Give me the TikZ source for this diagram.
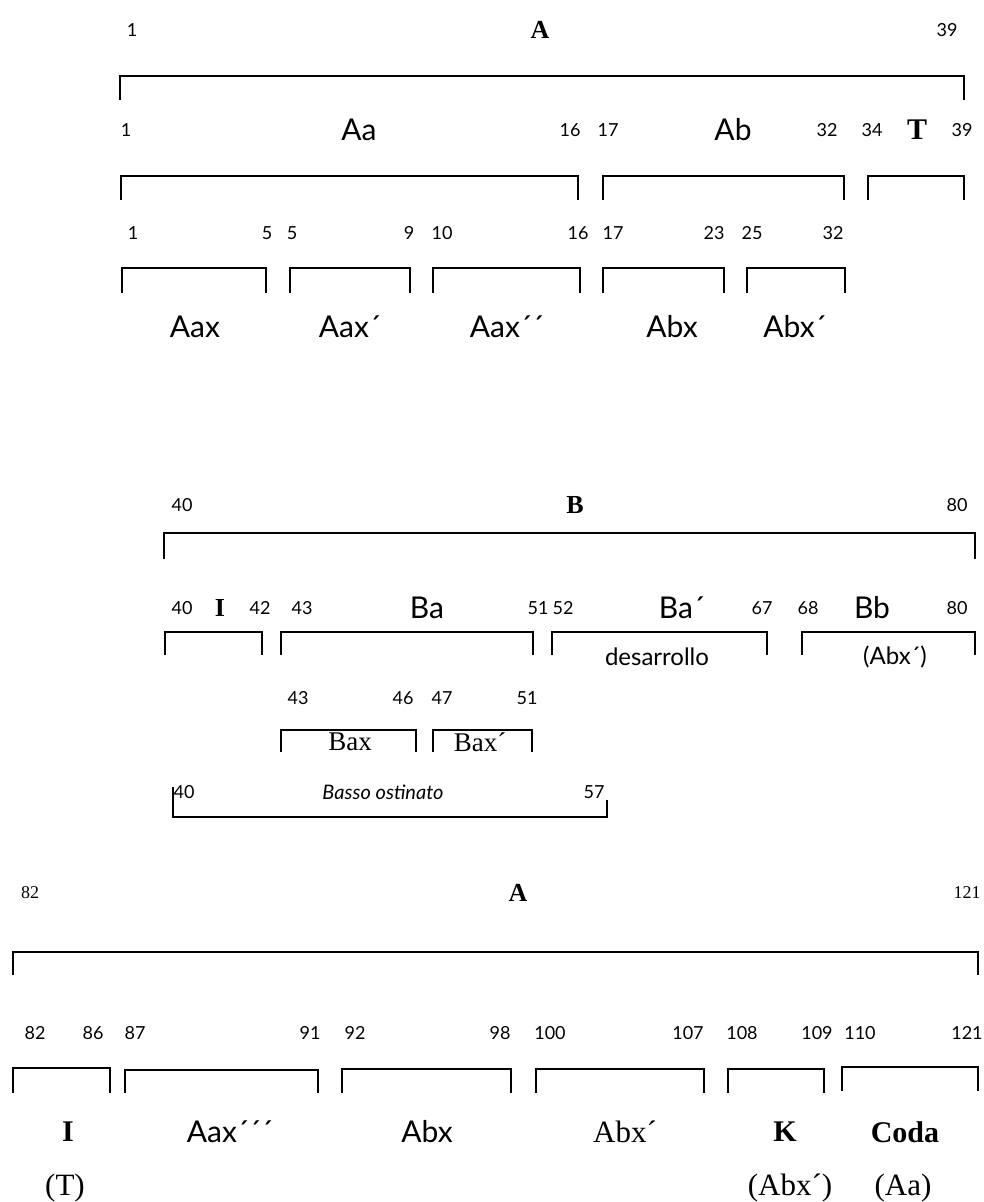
\documentclass[tikz,border=0pt]{standalone}
\usepackage{fontspec}
\setmainfont{Liberation Serif}
\newfontfamily\sansf{Lato}
\begin{document}
\begin{tikzpicture}[x=1pt,y=-1pt,
  num/.style={font=\sansf\fontsize{18}{18}\selectfont, inner sep=0pt},
  snum/.style={font=\fontsize{18}{18}\selectfont, inner sep=0pt},
  lab/.style={font=\sansf\fontsize{30}{30}\selectfont, inner sep=0pt},
  bl/.style={font=\bfseries\fontsize{26}{26}\selectfont, inner sep=0pt},
  blb/.style={font=\bfseries\fontsize{30}{30}\selectfont, inner sep=0pt},
  ser/.style={font=\fontsize{31}{31}\selectfont, inner sep=0pt},
  sml/.style={font=\sansf\fontsize{24}{24}\selectfont, inner sep=0pt},
  brk/.style={line width=1.8pt, line join=miter}]
\useasboundingbox (0,0) rectangle (983,1202);
% ---------- top section A ----------
\node[num] (a1) at (132,30) {1};
\node[bl] (aA) at (540,30) {A};
\node[num] (a39) at (947,30) {39};
\draw[brk] (120,100) |- (964,76) -- (964,100);
\node[num] (b1) at (126,130) {1};
\node[lab] (bAa) at (359,130) {Aa};
\node[num] (b16) at (570,130) {16};
\node[num] (b17) at (608,130) {17};
\node[lab] (bAb) at (733,130) {Ab};
\node[num] (b32) at (827,130) {32};
\node[num] (b34) at (872,130) {34};
\node[blb] (bT) at (917,130) {T};
\node[num] (b39) at (962,130) {39};
\draw[brk] (121,200) |- (578,176) -- (578,200);
\draw[brk] (603,200) |- (844,176) -- (844,200);
\draw[brk] (868,200) |- (964,176) -- (964,200);
\node[num] (c1) at (133,233) {1};
\node[num] (c5a) at (267,233) {5};
\node[num] (c5b) at (292,233) {5};
\node[num] (c9) at (409,233) {9};
\node[num] (c10) at (442,233) {10};
\node[num] (c16) at (578,233) {16};
\node[num] (c17) at (613,233) {17};
\node[num] (c23) at (714,233) {23};
\node[num] (c25) at (752,233) {25};
\node[num] (c32) at (833,233) {32};
\draw[brk] (122,293) |- (266,268) -- (266,293);
\draw[brk] (290,293) |- (410,268) -- (410,293);
\draw[brk] (433,293) |- (580,268) -- (580,293);
\draw[brk] (603,293) |- (724,268) -- (724,293);
\draw[brk] (747,293) |- (845,268) -- (845,293);
\node[lab] (dAax) at (195,327) {Aax};
\node[lab] (dAax1) at (350,327) {Aax´};
\node[lab] (dAax2) at (507,327) {Aax´´};
\node[lab] (dAbx) at (672,327) {Abx};
\node[lab] (dAbx1) at (795,327) {Abx´};
% ---------- middle section B ----------
\node[num] (e40) at (182,505) {40};
\node[bl] (eB) at (575,505) {B};
\node[num] (e80) at (957,505) {80};
\draw[brk] (164,559) |- (975,533) -- (975,559);
\node[num] (f40) at (182,608) {40};
\node[bl] (fI) at (220,608) {I};
\node[num] (f42) at (260,608) {42};
\node[num] (f43) at (302,608) {43};
\node[lab] (fBa) at (427,608) {Ba};
\node[num] (f51) at (538,608) {51};
\node[num] (f52) at (563,608) {52};
\node[lab] (fBa1) at (682,608) {Ba´};
\node[num] (f67) at (762,608) {67};
\node[num] (f68) at (808,608) {68};
\node[lab] (fBb) at (872,608) {Bb};
\node[num] (f80) at (957,608) {80};
\draw[brk] (165,655) |- (262,632) -- (262,655);
\draw[brk] (281,655) |- (533,632) -- (533,655);
\draw[brk] (552,655) |- (767,632) -- (767,655);
\draw[brk] (802,655) |- (975,632) -- (975,655);
\node[sml] (fdes) at (657,657) {desarrollo};
\node[sml] (fAbx) at (895,657) {(Abx´)};
\node[num] (g43) at (298,698) {43};
\node[num] (g46) at (403,698) {46};
\node[num] (g47) at (442,698) {47};
\node[num] (g51) at (527,698) {51};
\draw[brk] (281,752) |- (416,730) -- (416,752);
\draw[brk] (433,752) |- (532,730) -- (532,752);
\node[font=\fontsize{27}{27}\selectfont, inner sep=0pt] (gBax) at (350,742) {Bax};
\node[font=\fontsize{27}{27}\selectfont, inner sep=0pt] (gBax1) at (480,742) {Bax´};
\draw[line width=1.4pt] (173,787) |- (607,817) -- (607,800);
\node[num] (h40) at (184,792) {40};
\node[font=\sansf\itshape\fontsize{20}{20}\selectfont, inner sep=0pt] (hbo) at (383,792) {Basso ostinato};
\node[num] (h57) at (594,792) {57};
% ---------- bottom section A ----------
\node[snum] (i82) at (30,893) {82};
\node[bl] (iA) at (518,893) {A};
\node[snum] (i121) at (967,893) {121};
\draw[brk] (13,975) |- (978,952) -- (978,975);
\node[num] (j82) at (35,1033) {82};
\node[num] (j86) at (93,1033) {86};
\node[num] (j87) at (135,1033) {87};
\node[num] (j91) at (310,1033) {91};
\node[num] (j92) at (355,1033) {92};
\node[num] (j98) at (500,1033) {98};
\node[num] (j100) at (550,1033) {100};
\node[num] (j107) at (688,1033) {107};
\node[num] (j108) at (742,1033) {108};
\node[num] (j109) at (817,1033) {109};
\node[num] (j110) at (860,1033) {110};
\node[num] (j121) at (967,1033) {121};
\draw[brk] (13,1093) |- (110,1068) -- (110,1093);
\draw[brk] (125,1093) |- (318,1070) -- (318,1093);
\draw[brk] (342,1093) |- (511,1069) -- (511,1093);
\draw[brk] (536,1093) |- (704,1069) -- (704,1093);
\draw[brk] (728,1093) |- (824,1069) -- (824,1093);
\draw[brk] (842,1091) |- (978,1067) -- (978,1091);
\node[blb] (kI) at (68,1132) {I};
\node[lab] (kAax) at (230,1132) {Aax´´´};
\node[lab] (kAbx) at (427,1132) {Abx};
\node[ser] (kAbx1) at (625,1132) {Abx´};
\node[blb] (kK) at (785,1132) {K};
\node[blb] (kCoda) at (905,1132) {Coda};
\node[ser] (lT) at (65,1188) {(T)};
\node[ser] (lAbx) at (790,1188) {(Abx´)};
\node[ser] (lAa) at (903,1188) {(Aa)};
\end{tikzpicture}
\end{document}
